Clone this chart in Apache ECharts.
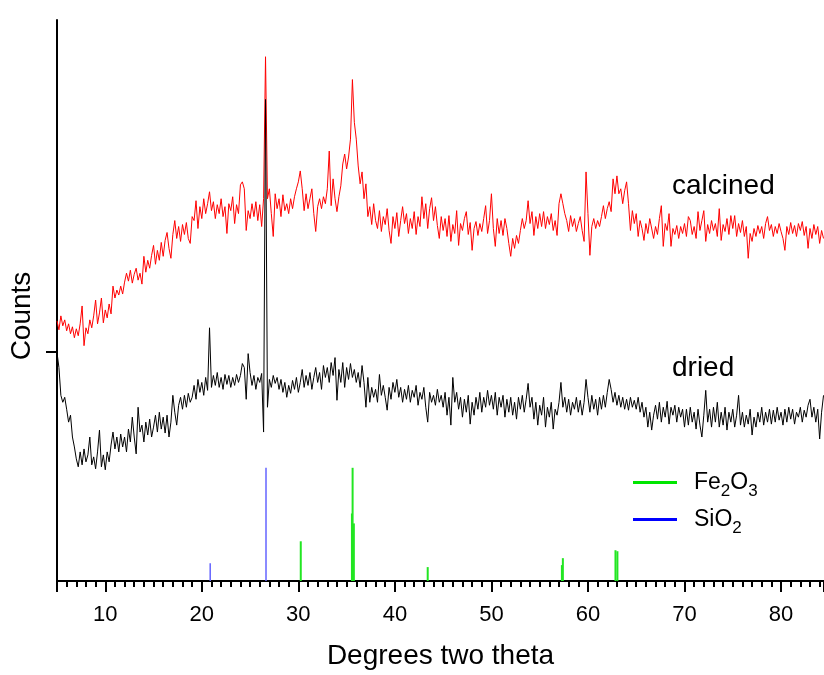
<!DOCTYPE html>
<html>
<head>
    <meta charset="utf-8">
    <title>XRD</title>
    <script src="https://cdn.jsdelivr.net/npm/echarts@6/dist/echarts.min.js"></script>
</head>
<body style="margin:0">
<div id="main" style="width:824px;height:675px;"></div>
<script type="text/javascript">
    // 2theta grid: start angle and step (degrees)
    var thetaStart = 5.0;
    var thetaStep = 0.2;

    // calcined sample, counts (arbitrary units, offset)
    var calcined = [
        262,253,267,257,263, 252,259,249,256,245, 254,247,259,277,237, 255,249,263,255,267,
        283,259,270,285,260, 273,265,279,269,297, 285,293,288,297,289, 301,310,302,313,300,
        309,315,303,310,299, 327,311,323,315,328, 338,319,333,323,341, 327,343,351,335,325,
        349,363,345,357,342, 359,349,361,345,340, 367,363,383,355,377, 365,385,370,380,392,
        373,382,365,379,370, 385,367,377,350,380, 373,387,360,379,370, 399,402,395,353,373,
        365,380,367,382,363, 379,357,385,528,385, 395,370,347,390,375, 385,367,389,373,380,
        370,385,375,387,395, 402,413,395,373,390, 375,385,395,370,352, 377,385,375,387,380,
        395,433,378,405,385, 372,387,398,420,430, 415,427,445,505,462, 445,418,400,412,385,
        400,367,377,359,380, 363,355,373,352,367, 359,375,353,340,367, 355,371,347,363,377,
        360,370,350,365,355, 372,349,367,357,387, 365,380,355,375,386, 363,377,358,345,367,
        353,365,347,368,342, 359,350,373,338,360, 353,365,372,349,361, 333,355,362,348,360,
        352,365,378,350,363, 390,355,337,365,350, 363,348,365,355,340, 327,345,335,348,340,
        353,365,355,363,383, 360,372,348,367,355, 370,357,372,355,367, 359,370,353,363,348,
        380,390,380,370,363, 352,368,357,365,352, 360,367,353,342,412, 370,328,357,365,355,
        363,357,367,378,365, 375,382,372,405,390, 408,390,395,380,393, 402,380,353,373,360,
        370,347,363,355,343, 360,350,365,367,345, 357,349,365,378,337, 360,353,370,337,355,
        349,358,345,357,350, 360,347,367,363,349, 357,345,372,353,363, 373,342,359,350,363,
        353,360,347,375,343, 359,352,365,349,368, 355,368,347,360,351, 363,347,357,325,350,
        342,355,347,358,350, 357,345,360,367,353, 359,347,357,350,360, 352,345,333,357,349,
        361,350,358,347,360, 353,362,348,357,335, 355,345,359,349,357, 340,353,345
    ];

    // dried sample, counts
    var dried = [
        230,215,187,180,185, 173,160,167,145,135, 123,115,130,117,133, 120,127,145,117,125,
        113,130,152,115,127, 112,130,120,137,150, 133,145,130,148,135, 145,130,153,140,165,
        145,128,175,150,157, 140,160,147,163,145, 155,167,150,170,153, 165,149,167,145,160,
        187,170,157,177,185, 173,187,175,189,180, 185,197,183,203,190, 200,187,205,192,255,
        195,207,197,210,195, 205,193,208,198,207, 195,205,197,208,200, 207,219,215,183,229,
        210,197,207,193,205, 200,209,150,485,175, 203,195,207,199,205, 193,203,190,200,185,
        197,189,202,193,205, 190,200,213,195,207, 197,210,193,205,215, 200,210,193,217,205,
        215,200,220,207,225, 182,213,200,220,195, 215,203,219,205,213, 200,210,195,217,200,
        175,205,180,195,185, 193,180,208,187,197, 185,172,195,183,200, 190,203,185,195,180,
        193,183,197,180,192, 185,197,177,190,183, 195,175,160,190,180, 187,177,193,180,187,
        175,190,167,185,157, 205,180,190,173,185, 165,183,170,187,158, 180,167,185,173,190,
        170,185,175,192,177, 187,173,190,167,185, 175,187,165,183,170, 185,167,180,163,185,
        173,187,170,183,199, 175,185,163,180,157, 177,167,185,155,175, 165,180,153,173,167,
        180,200,175,185,170, 183,167,180,173,185, 170,182,167,180,203, 185,170,187,173,183,
        167,185,173,187,175, 190,203,193,180,190, 177,187,175,185,173, 183,172,185,175,182,
        173,185,170,180,165, 175,155,170,152,167, 177,163,180,160,175, 165,181,158,175,167,
        177,160,175,165,173, 155,173,157,175,160, 170,153,173,157,145, 167,192,160,173,155,
        175,160,180,155,170, 157,175,152,170,160, 173,155,167,187,157, 170,155,167,158,173,
        147,165,155,170,160, 175,157,170,160,173, 158,172,160,175,162, 170,157,173,160,175,
        163,173,158,170,165, 175,160,172,165,177, 183,165,175,160,173, 143,170,187
    ];

    // reference patterns (stick positions / heights)
    var fe2o3Pos = [30.25, 35.55, 35.62, 35.75, 43.4, 57.3, 57.4, 62.85, 63.05];
    var fe2o3Int = [40, 68, 114, 58, 14, 16, 23, 31, 30];
    var sio2Pos = [20.87, 26.65];
    var sio2Int = [18, 114];

    var yTickAt = [231];

    function toXY(vals) {
        var out = [];
        for (var i = 0; i < vals.length; i++) {
            out.push([+(thetaStart + i * thetaStep).toFixed(2), vals[i]]);
        }
        return out;
    }
    function toSticks(pos, hts) {
        var out = [];
        for (var i = 0; i < pos.length; i++) out.push([pos[i], hts[i]]);
        return out;
    }
    function stickRenderer(width) {
        return function (params, api) {
            var p0 = api.coord([api.value(0), 0]);
            var p1 = api.coord([api.value(0), api.value(1)]);
            return {
                type: 'line',
                shape: {x1: p0[0], y1: p0[1], x2: p1[0], y2: p1[1]},
                style: {stroke: api.visual('color'), lineWidth: width}
            };
        };
    }

    var font = 'Liberation Sans';
    var bigFont = '28px "Liberation Sans"';
    var myChart = echarts.init(document.getElementById('main'));
    var option = {
        animation: false,
        textStyle: {fontFamily: font},
        grid: {left: 57, right: 0, top: 20, bottom: 91},
        legend: {
            orient: 'vertical',
            left: 633,
            top: 471,
            padding: 0,
            itemWidth: 44,
            itemHeight: 3,
            itemGap: 8,
            icon: 'rect',
            data: [
                {name: 'Fe2O3', itemStyle: {color: '#00e600'}},
                {name: 'SiO2', itemStyle: {color: '#0000ff'}}
            ],
            formatter: function (name) {
                return name === 'Fe2O3' ? '{n|Fe}{s|2}{n|O}{s|3}' : '{n|SiO}{s|2}';
            },
            textStyle: {
                padding: [0, 0, 0, 12],
                rich: {
                    n: {fontSize: 23, fontFamily: font, color: '#000'},
                    s: {fontSize: 17, fontFamily: font, color: '#000', padding: [18, 0, 0, 0]}
                }
            }
        },
        graphic: [
            {type: 'text', x: 672, y: 186, style: {text: 'calcined', font: bigFont, fill: '#000', verticalAlign: 'middle'}},
            {type: 'text', x: 672, y: 368, style: {text: 'dried', font: bigFont, fill: '#000', verticalAlign: 'middle'}},
            {type: 'text', x: 22, y: 316, rotation: Math.PI / 2,
                style: {text: 'Counts', font: bigFont, fill: '#000', align: 'center', verticalAlign: 'middle'}}
        ],
        xAxis: {
            type: 'value',
            min: 5,
            max: 84.45,
            splitNumber: 8,
            name: 'Degrees two theta',
            nameLocation: 'middle',
            nameGap: 61,
            nameTextStyle: {fontSize: 28, color: '#000', fontFamily: font},
            axisLine: {lineStyle: {color: '#000', width: 2}},
            axisTick: {length: 11, lineStyle: {width: 2, color: '#000'}},
            minorTick: {show: true, splitNumber: 10, length: 6, lineStyle: {width: 2, color: '#000'}},
            axisLabel: {fontSize: 22, color: '#000', margin: 23, showMinLabel: false, showMaxLabel: false},
            splitLine: {show: false}
        },
        yAxis: {
            type: 'value',
            min: 0,
            max: 565,
            axisLine: {show: true, lineStyle: {color: '#000', width: 2}},
            axisTick: {show: true, length: 11, customValues: yTickAt, lineStyle: {width: 2, color: '#000'}},
            axisLabel: {show: false},
            splitLine: {show: false}
        },
        series: [
            {
                name: 'SiO2', type: 'custom', renderItem: stickRenderer(1.5),
                itemStyle: {color: '#6464ff'}, encode: {x: 0, y: 1},
                data: toSticks(sio2Pos, sio2Int)
            },
            {
                name: 'Fe2O3', type: 'custom', renderItem: stickRenderer(2),
                itemStyle: {color: '#22e622'}, encode: {x: 0, y: 1},
                data: toSticks(fe2o3Pos, fe2o3Int)
            },
            {
                name: 'calcined', type: 'line', showSymbol: false, sampling: 'none',
                lineStyle: {color: '#ff0000', width: 1}, itemStyle: {color: '#ff0000'},
                data: toXY(calcined)
            },
            {
                name: 'dried', type: 'line', showSymbol: false, sampling: 'none',
                lineStyle: {color: '#000000', width: 1}, itemStyle: {color: '#000000'},
                data: toXY(dried)
            }
        ]
    };
    myChart.setOption(option);
</script>
</body>
</html>
